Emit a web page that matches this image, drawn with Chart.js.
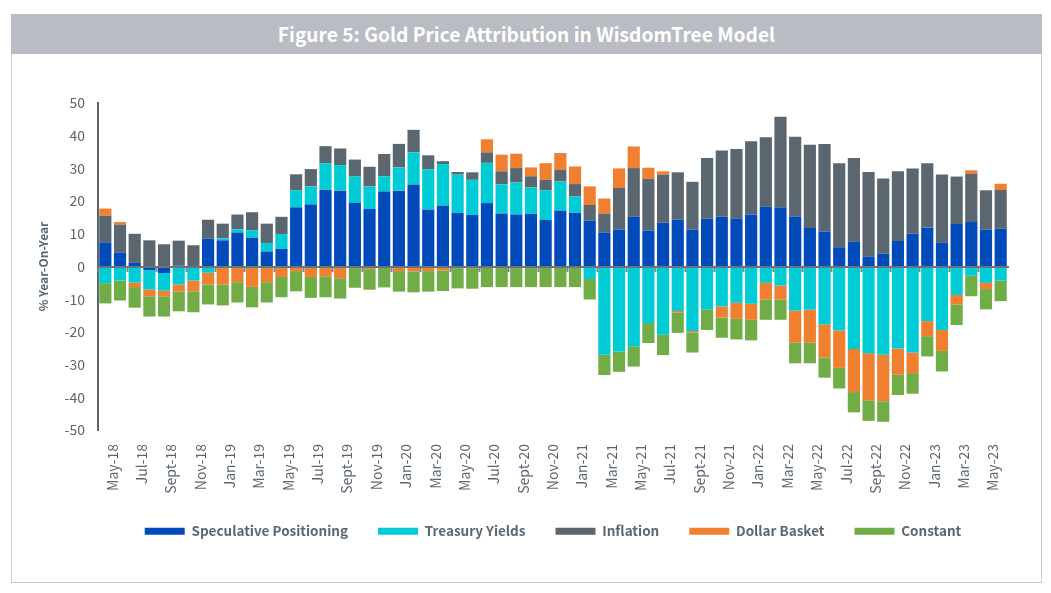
<!DOCTYPE html>
<html>
<head>
<meta charset="utf-8">
<style>
  html, body { margin: 0; padding: 0; background: #fff; }
  body { width: 1051px; height: 593px; position: relative; overflow: hidden; font-family: "Noto Sans CJK SC", sans-serif; }
  .frame { position: absolute; left: 11px; top: 14px; width: 1029px; height: 568px; border: 1px solid #c9cbcf; border-top: 0; }
  .header { position: absolute; left: 11px; top: 14px; width: 1031px; height: 40px; line-height: 40px; background: #b9bcc3; color: #fff; font-size: 19.2px; font-weight: 700; text-align: center; }
  #chart { position: absolute; left: 0; top: 0; }
</style>
</head>
<body>
<div class="frame"></div>
<div class="header">Figure 5: Gold Price Attribution in WisdomTree Model</div>
<canvas id="chart" width="1051" height="593"></canvas>
<script src="https://cdn.jsdelivr.net/npm/chart.js@4/dist/chart.umd.js"></script>
<script>
const categories = [
  'May-18', 'Jun-18', 'Jul-18', 'Aug-18', 'Sept-18', 'Oct-18', 'Nov-18', 'Dec-18',
  'Jan-19', 'Feb-19', 'Mar-19', 'Apr-19', 'May-19', 'Jun-19', 'Jul-19', 'Aug-19', 'Sept-19', 'Oct-19', 'Nov-19', 'Dec-19',
  'Jan-20', 'Feb-20', 'Mar-20', 'Apr-20', 'May-20', 'Jun-20', 'Jul-20', 'Aug-20', 'Sept-20', 'Oct-20', 'Nov-20', 'Dec-20',
  'Jan-21', 'Feb-21', 'Mar-21', 'Apr-21', 'May-21', 'Jun-21', 'Jul-21', 'Aug-21', 'Sept-21', 'Oct-21', 'Nov-21', 'Dec-21',
  'Jan-22', 'Feb-22', 'Mar-22', 'Apr-22', 'May-22', 'Jun-22', 'Jul-22', 'Aug-22', 'Sept-22', 'Oct-22', 'Nov-22', 'Dec-22',
  'Jan-23', 'Feb-23', 'Mar-23', 'Apr-23', 'May-23', 'Jun-23'
];

const yTicks = [50, 40, 30, 20, 10, 0, -10, -20, -30, -40, -50];

const speculative = [
  7.4, 4.3, 1.1, -1.1, -2.0, 0.3, 0, 8.5, 8.0, 10.4, 8.8, 4.6, 5.4, 18.1, 19.0, 23.5, 23.2, 19.6, 17.6, 22.9,
  23.2, 25.1, 17.4, 18.6, 16.4, 15.8, 19.4, 16.2, 15.9, 16.1, 14.3, 17.1, 16.4, 14.0, 10.3, 11.3, 15.2, 11.0, 13.4, 14.3,
  11.3, 14.6, 15.2, 14.7, 15.9, 18.3, 18.0, 15.3, 11.8, 10.7, 5.9, 7.6, 3.0, 3.9, 7.8, 10.0, 11.9, 7.3, 13.0, 13.6, 11.3, 11.6
];
const treasury = [
  -5.1, -4.3, -4.9, -5.9, -5.4, -5.5, -4.3, -1.9, 0.6, 1.0, 2.3, 2.6, 4.5, 5.2, 5.5, 8.1, 7.8, 7.9, 6.9, 4.7,
  7.1, 9.8, 12.3, 12.7, 11.7, 10.7, 12.3, 8.9, 9.8, 8.1, 9.0, 8.9, 5.0, -3.8, -27.0, -26.0, -24.4, -17.3, -20.9, -13.6,
  -19.7, -13.1, -12.2, -11.1, -11.4, -5.0, -5.8, -13.5, -13.2, -17.7, -19.6, -25.2, -26.5, -27.0, -25.1, -26.3, -16.7, -19.4, -8.7, -2.8, -5.0, -4.3
];
const inflation = [
  8.1, 8.5, 8.9, 8.0, 6.8, 7.6, 6.5, 5.8, 4.5, 4.5, 5.5, 5.9, 5.3, 4.9, 5.3, 5.2, 5.1, 5.2, 6.0, 6.8,
  7.2, 6.9, 4.3, 0.9, 0.8, 2.3, 3.2, 4.0, 4.4, 3.4, 3.2, 3.5, 3.8, 4.8, 5.9, 12.7, 14.9, 15.8, 14.7, 14.5,
  14.6, 18.6, 20.3, 21.2, 22.4, 21.2, 27.8, 24.4, 25.4, 26.8, 25.7, 25.6, 25.9, 23.0, 21.3, 20.0, 19.7, 20.8, 14.5, 14.7, 12.0, 11.8
];
const dollarBasket = [
  2.2, 0.8, -1.4, -2.1, -1.7, -2.1, -3.3, -3.6, -5.5, -4.8, -6.2, -4.8, -3.2, -1.4, -3.2, -3.0, -3.6, 0, -0.8, 0,
  -1.4, -1.5, -1.4, -1.2, -0.5, -0.5, 4.0, 5.1, 4.4, 2.7, 5.1, 5.2, 5.4, 5.7, 4.6, 6.0, 6.6, 3.4, 1.0, -0.5,
  -0.5, 0, -3.4, -4.9, -4.9, -5.1, -4.3, -9.8, -10.1, -10.1, -11.4, -13.2, -14.4, -14.2, -8.0, -6.3, -4.6, -6.4, -2.9, 1.1, -1.9, 1.9
];
const constant = [
  -6.2, -6.1, -6.3, -6.2, -6.2, -6.1, -6.4, -6.1, -6.4, -6.2, -6.3, -6.2, -6.2, -6.2, -6.4, -6.4, -6.2, -6.5, -6.3, -6.4,
  -6.3, -6.4, -6.3, -6.3, -6.2, -6.3, -6.3, -6.3, -6.3, -6.3, -6.3, -6.3, -6.3, -6.3, -6.2, -6.2, -6.2, -6.1, -6.2, -6.2,
  -6.1, -6.3, -6.2, -6.3, -6.3, -6.2, -6.2, -6.3, -6.3, -6.2, -6.3, -6.2, -6.3, -6.3, -6.2, -6.3, -6.2, -6.3, -6.3, -6.3, -6.2, -6.3
];

const FONT = '"Noto Sans CJK SC", sans-serif';
const GREY = '#5b6770';

new Chart(document.getElementById('chart'), {
  type: 'bar',
  data: {
    labels: categories,
    datasets: [
      { label: 'Speculative Positioning', data: speculative, backgroundColor: '#004bb9' },
      { label: 'Treasury Yields', data: treasury, backgroundColor: '#00ccd6' },
      { label: 'Inflation', data: inflation, backgroundColor: GREY },
      { label: 'Dollar Basket', data: dollarBasket, backgroundColor: '#f07f2f' },
      { label: 'Constant', data: constant, backgroundColor: '#70ad47' }
    ]
  },
  options: {
    responsive: false,
    animation: false,
    datasets: { bar: { barPercentage: 0.83, categoryPercentage: 1 } },
    layout: { padding: { left: 36, right: 43, top: 103, bottom: 45 } },
    plugins: {
      tooltip: { enabled: false },
      legend: {
        position: 'bottom',
        fullSize: false,
        labels: {
          color: GREY,
          font: { family: FONT, size: 13.5, weight: '700' },
          boxWidth: 40,
          boxHeight: 7,
          padding: 30
        }
      }
    },
    scales: {
      x: {
        stacked: true,
        afterFit: (scale) => { scale.height = 64.5; },
        border: { display: false },
        grid: { display: false, drawTicks: false },
        ticks: {
          autoSkip: false,
          minRotation: 90,
          maxRotation: 90,
          padding: 14,
          labelOffset: 7,
          color: GREY,
          font: { family: FONT, size: 14 },
          callback: (value, index) => (index % 2 === 0 ? categories[index] : '')
        }
      },
      // second x axis only draws the zero line and its tick marks
      zero: {
        type: 'category',
        axis: 'x',
        position: { y: 0 },
        border: { display: true, color: '#6b747b', width: 2, z: 1 },
        grid: {
          display: true,
          z: 1,
          offset: true,
          drawOnChartArea: false,
          tickLength: 4,
          tickWidth: 2,
          tickColor: (ctx) => (ctx.index % 2 === 0 ? '#7d868d' : 'transparent')
        },
        ticks: { display: false, autoSkip: false }
      },
      y: {
        stacked: true,
        min: -50,
        max: 50,
        afterFit: (scale) => { scale.width = 62; },
        afterBuildTicks: (scale) => { scale.ticks = yTicks.map((value) => ({ value })); },
        border: { color: GREY, width: 2 },
        grid: { display: false, drawTicks: false },
        ticks: { padding: 13, color: GREY, font: { family: FONT, size: 14 } },
        title: {
          display: true,
          text: '% Year-On-Year',
          color: GREY,
          padding: 0,
          font: { family: FONT, size: 12, weight: '700' }
        }
      }
    }
  }
});
</script>
</body>
</html>
